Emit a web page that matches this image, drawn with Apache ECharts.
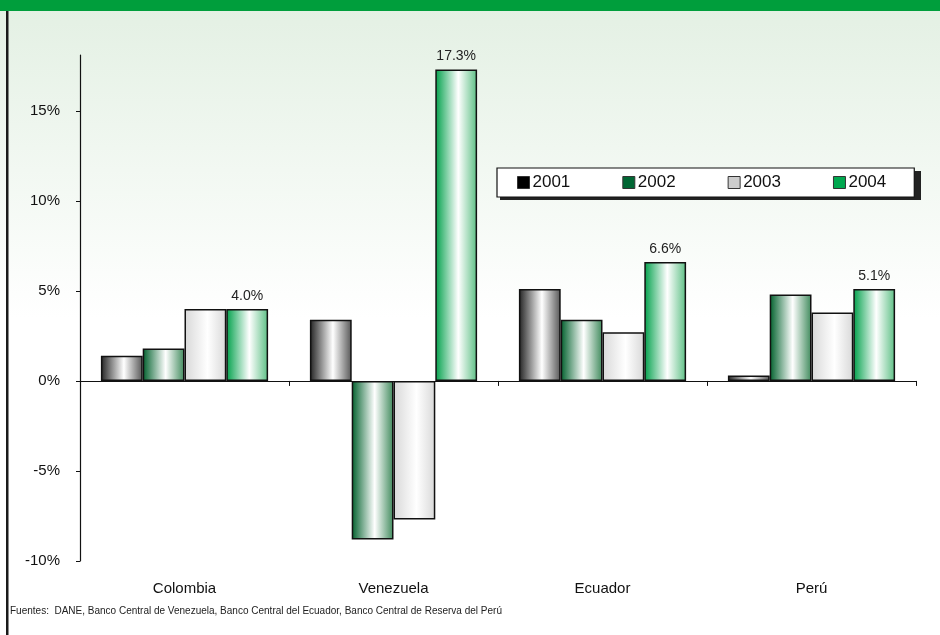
<!DOCTYPE html>
<html>
<head>
<meta charset="utf-8">
<script src="https://cdn.jsdelivr.net/npm/echarts@6/dist/echarts.min.js"></script>
<style>
    html, body { margin: 0; padding: 0; background: #fff; }
    #chart { width: 940px; height: 635px; }
</style>
</head>
<body>
<div id="chart"></div>
<script>
// datos
var paises = ['Colombia', 'Venezuela', 'Ecuador', 'Perú'];
var anios = ['2001', '2002', '2003', '2004'];
var v2001 = [1.4, 3.4, 5.1, 0.3];
var v2002 = [1.8, -8.8, 3.4, 4.8];
var v2003 = [4.0, -7.7, 2.7, 3.8];
var v2004 = [4.0, 17.3, 6.6, 5.1];
var yTicks = [-10, -5, 0, 5, 10, 15];
var fuente = 'Fuentes:  DANE, Banco Central de Venezuela, Banco Central del Ecuador, Banco Central de Reserva del Perú';

var fuenteTxt = '"Liberation Sans Narrow", "Arial Narrow", "Liberation Sans", Arial, sans-serif';

function grad(a, b, c) {
    return new echarts.graphic.LinearGradient(0, 0, 1, 0, [
        { offset: 0, color: a },
        { offset: 0.55, color: b },
        { offset: 1, color: c }
    ]);
}

var estilos = [
    { fill: grad('#222222', '#ffffff', '#555555'), legend: '#000000' },
    { fill: grad('#00602c', '#ffffff', '#3f8a5c'), legend: '#006633' },
    { fill: grad('#d8d8d8', '#ffffff', '#d8d8d8'), legend: '#cccccc' },
    { fill: grad('#00a04a', '#ffffff', '#5cbf84'), legend: '#00a84f' }
];
var valores = [v2001, v2002, v2003, v2004];

var myChart = echarts.init(document.getElementById('chart'));

var series = anios.map(function (a, i) {
    var s = {
        name: a,
        type: 'bar',
        xAxisIndex: 0,
        barGap: '0%',
        barCategoryGap: '20%',
        itemStyle: { color: estilos[i].fill, borderColor: '#111', borderWidth: 1.5 },
        data: valores[i]
    };
    if (i === 3) {
        s.label = {
            show: true,
            position: 'top',
            distance: 6,
            color: '#222',
            fontSize: 14,
            fontFamily: fuenteTxt,
            formatter: function (p) { return p.value.toFixed(1) + '%'; }
        };
    }
    return s;
});

myChart.setOption({
    animation: false,
    graphic: [
        {
            type: 'rect', z: -10, silent: true,
            shape: { x: 0, y: 0, width: 940, height: 635 },
            style: {
                fill: new echarts.graphic.LinearGradient(0, 0, 0, 1, [
                    { offset: 0, color: '#e3f0e3' },
                    { offset: 0.5, color: '#ffffff' },
                    { offset: 1, color: '#ffffff' }
                ])
            }
        },
        {
            type: 'rect', z: -5, silent: true,
            shape: { x: 0, y: 0, width: 940, height: 11 },
            style: { fill: '#009e3c' }
        },
        {
            type: 'rect', z: 5, silent: true,
            shape: { x: 6, y: 11, width: 2.5, height: 624 },
            style: { fill: '#1a1a1a' }
        },
        {
            // sombra de la leyenda
            type: 'rect', z: 1, silent: true,
            shape: { x: 500, y: 171, width: 421, height: 29 },
            style: { fill: '#222' }
        },
        {
            type: 'text', left: 10, top: 606,
            style: { text: fuente, fill: '#222', fontSize: 10, fontFamily: fuenteTxt }
        }
    ],
    grid: { left: 80, right: 24, top: 55, bottom: 74 },
    legend: {
        left: 497,
        top: 168,
        padding: [6, 28, 6, 20],
        itemWidth: 12,
        itemHeight: 12,
        itemGap: 52,
        backgroundColor: '#fff',
        borderColor: '#111',
        borderWidth: 1.2,
        borderRadius: 0,
        textStyle: { color: '#111', fontSize: 17, fontFamily: fuenteTxt, padding: [0, 0, 0, -2] },
        data: anios.map(function (a, i) {
            return { name: a, icon: 'rect', itemStyle: { color: estilos[i].legend, borderColor: '#333', borderWidth: 1 } };
        })
    },
    xAxis: [
        {
            type: 'category',
            data: paises,
            axisLine: { onZero: true, lineStyle: { color: '#111', width: 1.2 } },
            axisTick: { show: true, length: 5, lineStyle: { color: '#111' } },
            axisLabel: { show: false },
            splitLine: { show: false }
        },
        {
            type: 'category',
            data: paises,
            position: 'bottom',
            axisLine: { show: false, onZero: false },
            axisTick: { show: false },
            axisLabel: { margin: 20, color: '#111', fontSize: 15, fontFamily: fuenteTxt },
            splitLine: { show: false }
        }
    ],
    yAxis: {
        type: 'value',
        min: -10,
        max: 18.1,
        interval: 5,
        axisLine: { show: true, lineStyle: { color: '#111', width: 1.2 } },
        axisTick: { show: true, length: 4, lineStyle: { color: '#111' }, customValues: yTicks },
        axisLabel: {
            margin: 20, color: '#111', fontSize: 15, fontFamily: fuenteTxt,
            customValues: yTicks,
            formatter: '{value}%'
        },
        splitLine: { show: false }
    },
    series: series
});
</script>
</body>
</html>
